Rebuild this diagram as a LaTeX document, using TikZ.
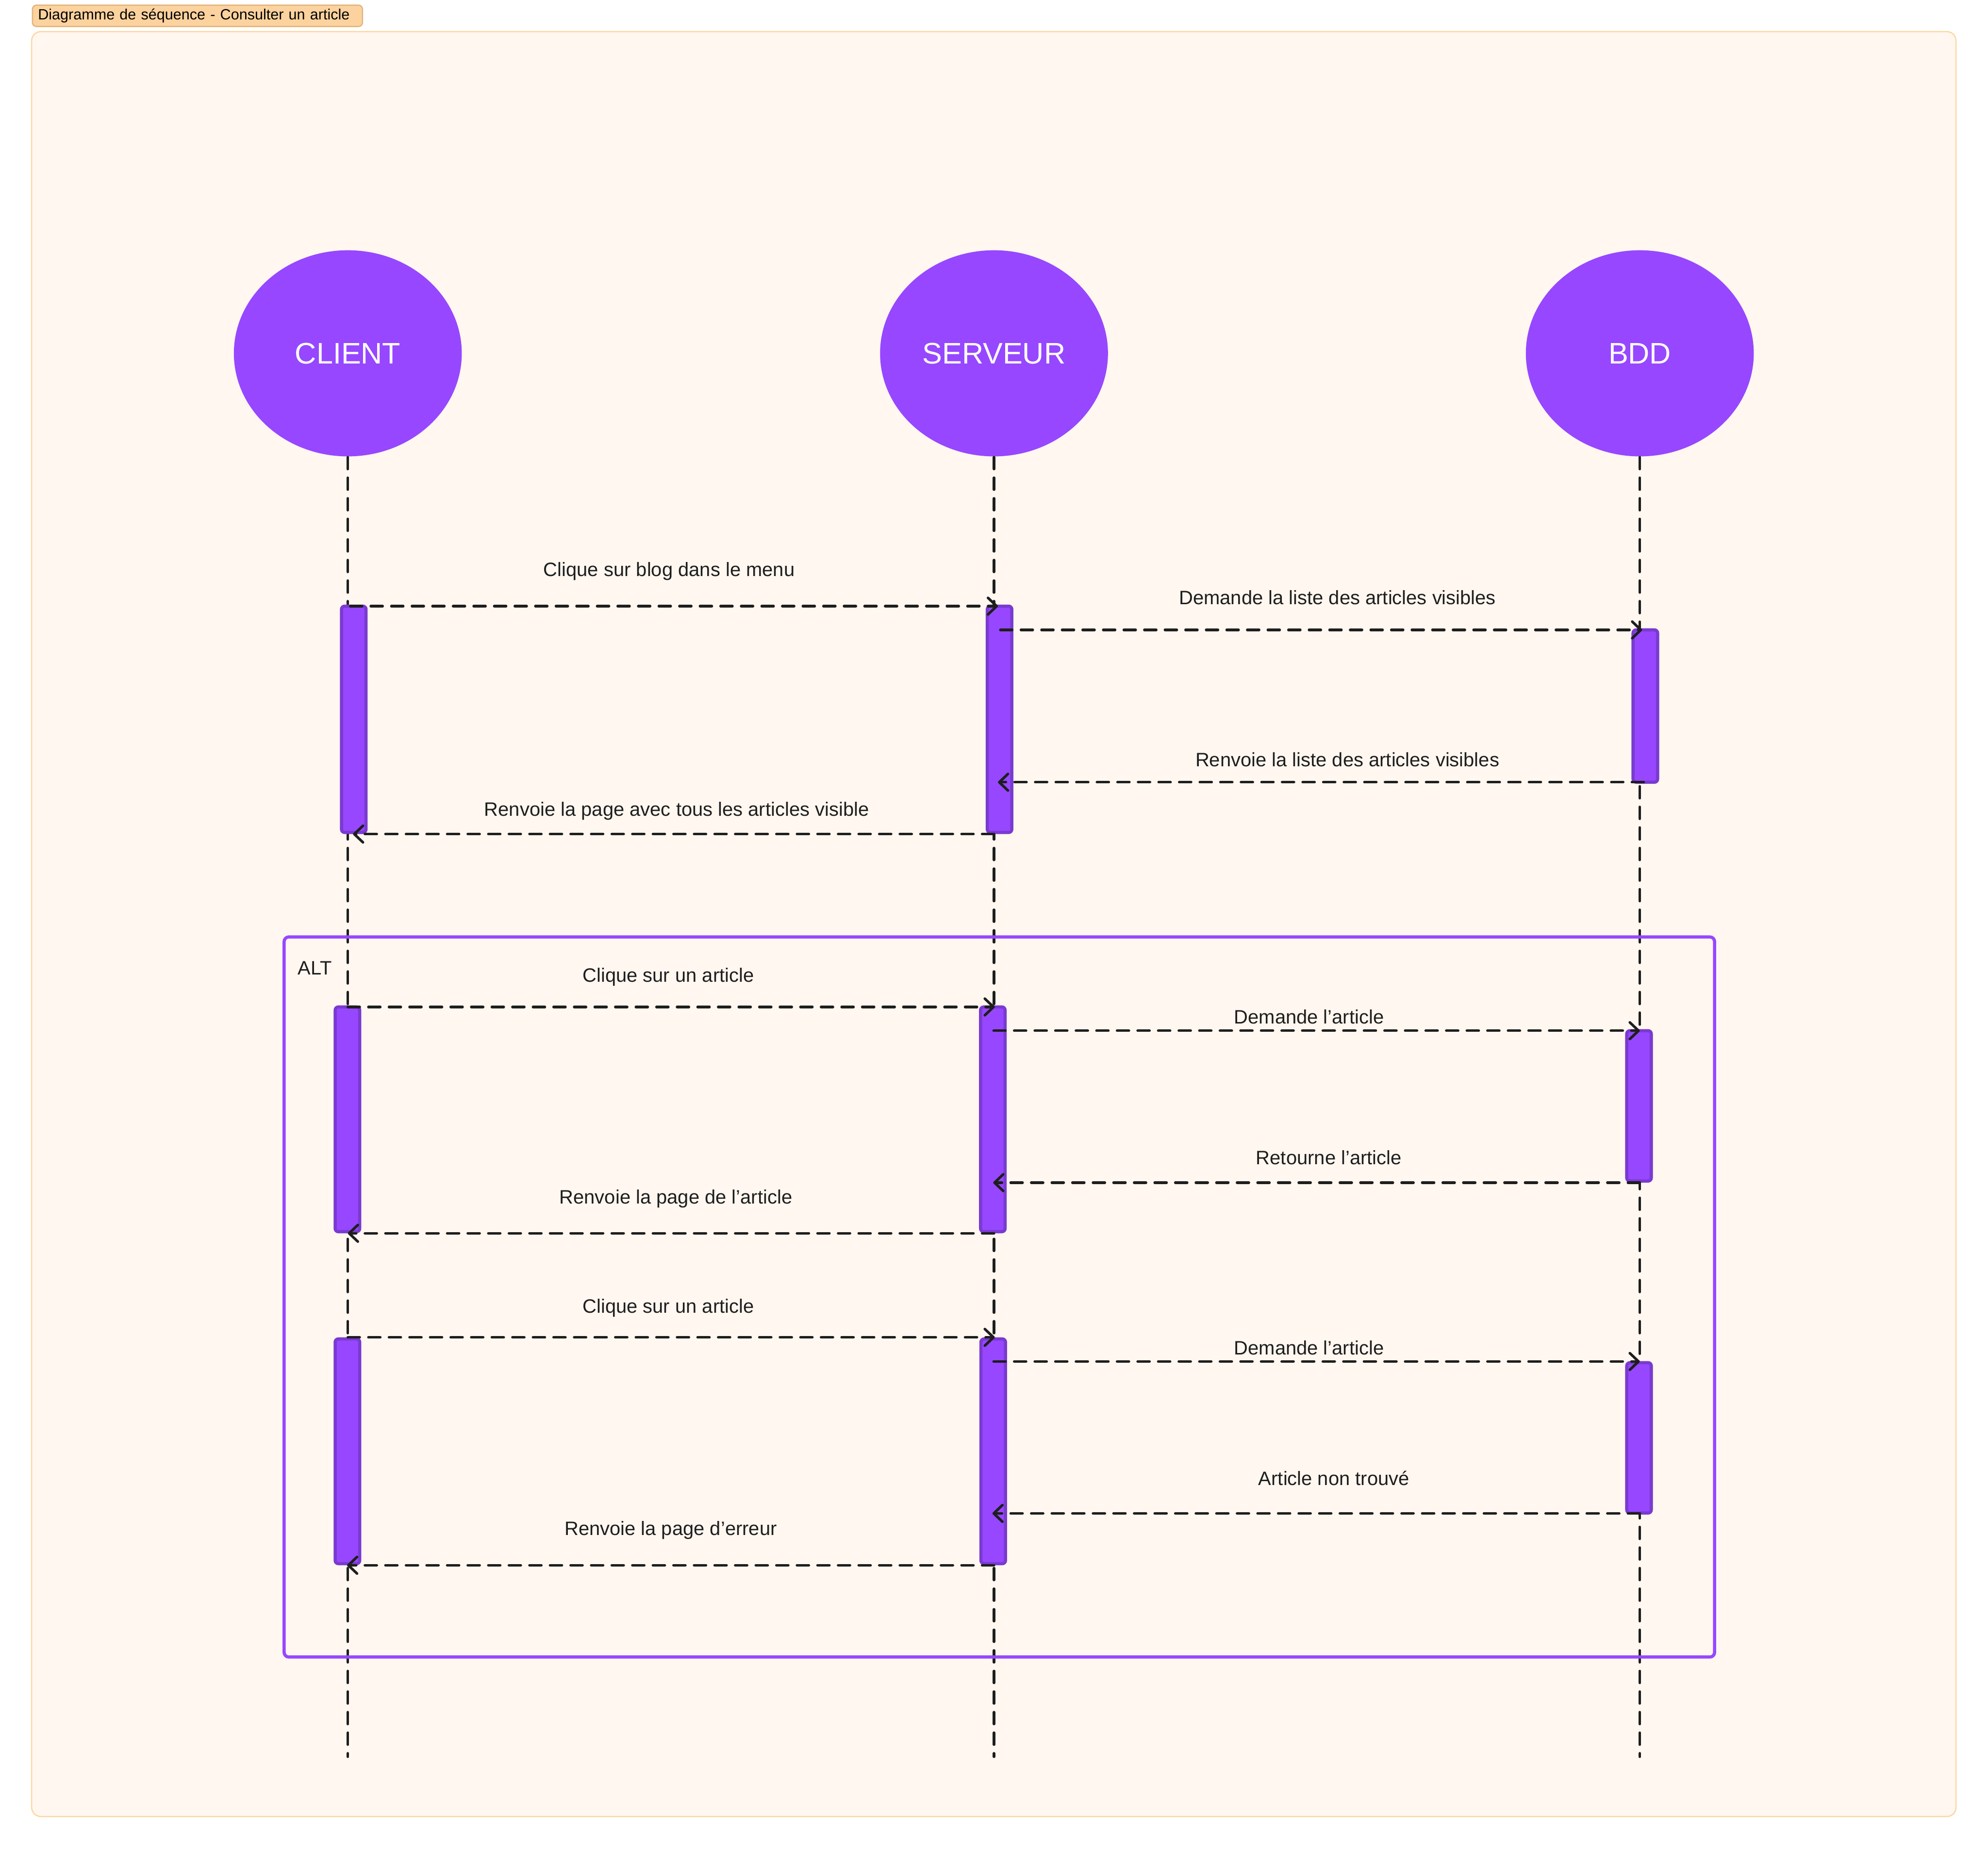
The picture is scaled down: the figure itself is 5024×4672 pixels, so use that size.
\documentclass[tikz,border=0pt]{standalone}
\usepackage{fontspec}
\setmainfont{Liberation Sans}
\usetikzlibrary{arrows.meta,shapes.geometric}
\definecolor{purp}{HTML}{9747FF}
\definecolor{purpdark}{HTML}{7A3AD0}
\definecolor{ink}{HTML}{1E1E1E}
\definecolor{framebg}{HTML}{FFF7F0}
\definecolor{frameline}{HTML}{FCD6A0}
\definecolor{tagbg}{HTML}{FCD29E}
\definecolor{tagline}{HTML}{E2B47C}
\newcommand\lblfont{\fontsize{4.9pt}{5.9pt}\selectfont}
\newcommand\actorfont{\fontsize{7.5pt}{9pt}\selectfont}
\newcommand\tagfont{\fontsize{3.75pt}{4.5pt}\selectfont}
\begin{document}
\begin{tikzpicture}[x=0.1pt,y=-0.1pt,
  actor/.style={ellipse, fill=purp, text=white, minimum width=57.6pt, minimum height=52.1pt, inner sep=0pt, font=\actorfont},
  bar/.style={rectangle, draw=purpdark, fill=purp, line width=0.8pt, rounded corners=0.8pt, minimum width=6.2pt, inner sep=0pt},
  life/.style={draw=ink, line width=0.65pt, dash pattern=on 3pt off 2.2pt, line cap=round},
  msg/.style={life, -{Straight Barb[length=2.2pt,width=4.2pt,round]}},
  lbl/.style={font=\lblfont, text=ink, anchor=base, inner sep=0pt},
  altbox/.style={draw=purp, line width=0.8pt, rounded corners=1.2pt}]
% canvas
\fill[white] (0,0) rectangle (5024,4672);
\useasboundingbox (0,0) rectangle (5024,4672);
% frame
\draw[fill=framebg, draw=frameline, line width=0.3pt, rounded corners=2.3pt] (80,80) rectangle (4943,4591);
% title tag
\node (tag) [fill=tagbg, draw=tagline, line width=0.3pt, rounded corners=1pt, text=black, font=\tagfont,
  text width=80.6pt, align=left, inner xsep=1.4pt, minimum height=5.4pt, inner ysep=0pt] at (499,40)
  {Diagramme de séquence - Consulter un article};
% actors
\node (client) [actor] at (879,893) {CLIENT};
\node (serveur) [actor] at (2512,893) {SERVEUR};
\node (bdd) [actor] at (4144,893) {BDD};
\coordinate (clientend) at (879,4440);
\coordinate (serveurend) at (2512,4440);
\coordinate (bddend) at (4144,4440);
% lifelines
\draw[life] (client.south) -- (clientend);
\draw[life] (serveur.south) -- (serveurend);
\draw[life] (bdd.south) -- (bddend);
% alt frame
\draw[altbox] (718,2368) rectangle (4333,4188);
\node (alt) [font=\lblfont, text=ink, anchor=base west, inner sep=0pt] at (751,2464) {ALT};
% activation bars
\node (cb1) [bar, minimum height=57.2pt] at (894,1818) {};
\node (sb1) [bar, minimum height=57.2pt] at (2526,1818) {};
\node (bb1) [bar, minimum height=38.5pt] at (4158,1784.5) {};
\node (cb2) [bar, minimum height=56.8pt] at (878,2829) {};
\node (sb2) [bar, minimum height=56.8pt] at (2509,2829) {};
\node (bb2) [bar, minimum height=38.0pt] at (4142,2795) {};
\node (cb3) [bar, minimum height=56.8pt] at (878,3668) {};
\node (sb3) [bar, minimum height=56.8pt] at (2510,3668) {};
\node (bb3) [bar, minimum height=38.0pt] at (4142,3634) {};
% message end points
\coordinate (m1a) at (885,1532);  \coordinate (m1b) at (2522,1532);
\coordinate (m2a) at (2528,1592); \coordinate (m2b) at (4150,1592);
\coordinate (m3a) at (4154,1977); \coordinate (m3b) at (2522,1977);
\coordinate (m4a) at (2512,2108); \coordinate (m4b) at (892,2108);
\coordinate (m5a) at (879,2545);  \coordinate (m5b) at (2514,2545);
\coordinate (m6a) at (2511,2605); \coordinate (m6b) at (4144,2605);
\coordinate (m7a) at (4144,2989); \coordinate (m7b) at (2510,2989);
\coordinate (m8a) at (2512,3117); \coordinate (m8b) at (879,3117);
\coordinate (m9a) at (879,3380);  \coordinate (m9b) at (2514,3380);
\coordinate (m10a) at (2511,3441); \coordinate (m10b) at (4144,3441);
\coordinate (m11a) at (4144,3825); \coordinate (m11b) at (2508,3825);
\coordinate (m12a) at (2512,3956); \coordinate (m12b) at (877,3956);
% messages
\draw[msg] (m1a) -- (m1b);
\draw[msg] (m2a) -- (m2b);
\draw[msg] (m3a) -- (m3b);
\draw[msg] (m4a) -- (m4b);
\draw[msg] (m5a) -- (m5b);
\draw[msg] (m6a) -- (m6b);
\draw[msg] (m7a) -- (m7b);
\draw[msg] (m8a) -- (m8b);
\draw[msg] (m9a) -- (m9b);
\draw[msg] (m10a) -- (m10b);
\draw[msg] (m11a) -- (m11b);
\draw[msg] (m12a) -- (m12b);
% labels
\node (l1) [lbl] at (1691,1457) {Clique sur blog dans le menu};
\node (l2) [lbl] at (3380,1528) {Demande la liste des articles visibles};
\node (l3) [lbl] at (3405,1937) {Renvoie la liste des articles visibles};
\node (l4) [lbl] at (1710,2063) {Renvoie la page avec tous les articles visible};
\node (l5) [lbl] at (1689,2482) {Clique sur un article};
\node (l6) [lbl] at (3308,2588) {Demande l’article};
\node (l7) [lbl] at (3358,2943) {Retourne l’article};
\node (l8) [lbl] at (1708,3043) {Renvoie la page de l’article};
\node (l9) [lbl] at (1689,3318) {Clique sur un article};
\node (l10) [lbl] at (3308,3424) {Demande l’article};
\node (l11) [lbl] at (3371,3754) {Article non trouvé};
\node (l12) [lbl] at (1695,3880) {Renvoie la page d’erreur};
\end{tikzpicture}
\end{document}
